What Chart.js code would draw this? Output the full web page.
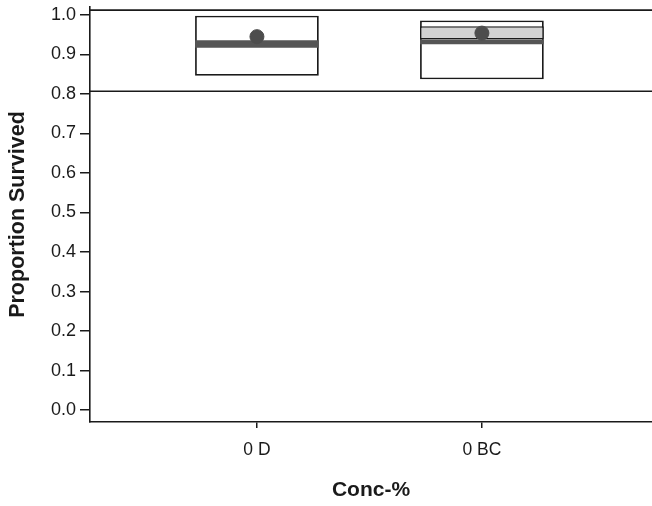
<!DOCTYPE html>
<html>
<head>
<meta charset="utf-8">
<script src="https://cdn.jsdelivr.net/npm/chart.js@4"></script>
<style>
  html, body { margin: 0; padding: 0; background: #fff; overflow: hidden; }
  #myChart { display: block; }
</style>
</head>
<body>
<canvas id="myChart" width="652" height="506"></canvas>
<script>
// values
const categories = ['0 D', '0 BC'];
const catPos = [0, 1];
const boxLow = [0.846, 0.837];
const boxHigh = [0.998, 0.986];
const bandLow = [null, 0.938];
const bandHigh = [null, 0.971];
const medianLow = [0.917, 0.926];
const medianHigh = [0.936, 0.938];
const means = [0.945, 0.954];
const refLines = [0.807, 1.012];
const yTicks = [0, 0.1, 0.2, 0.3, 0.4, 0.5, 0.6, 0.7, 0.8, 0.9, 1.0];

const xMin = -0.742, xMax = 1.756;
const fontFam = '"Liberation Sans", Arial, sans-serif';

function floating(lo, hi) {
    const out = [];
    catPos.forEach((x, i) => {
        if (lo[i] !== null && hi[i] !== null) out.push({x: x, y: [lo[i], hi[i]]});
    });
    return out;
}

const lineSets = refLines.map(v => ({
    type: 'line',
    data: [{x: xMin, y: v}, {x: xMax, y: v}],
    borderColor: '#1a1a1a',
    borderWidth: 1.6,
    pointRadius: 0,
    order: 6
}));

const barCommon = {
    type: 'bar',
    grouped: false,
    categoryPercentage: 1,
    barPercentage: 0.55,
    borderSkipped: false
};

const ctx = document.getElementById('myChart').getContext('2d');
const config = {
    type: 'bar',
    data: {
        datasets: [
            ...lineSets,
            Object.assign({}, barCommon, {
                data: floating(boxLow, boxHigh),
                backgroundColor: '#ffffff',
                borderColor: '#1a1a1a',
                borderWidth: 1.8,
                order: 5
            }),
            Object.assign({}, barCommon, {
                data: floating(bandLow, bandHigh),
                backgroundColor: '#d2d2d2',
                borderColor: '#1a1a1a',
                borderWidth: 1.4,
                order: 4
            }),
            Object.assign({}, barCommon, {
                data: floating(medianLow, medianHigh),
                backgroundColor: '#555555',
                borderWidth: 0,
                order: 3
            }),
            {
                type: 'scatter',
                data: catPos.map((x, i) => ({x: x, y: means[i]})),
                backgroundColor: '#4d4d4d',
                borderColor: '#4d4d4d',
                pointRadius: 7,
                order: 1
            }
        ]
    },
    options: {
        responsive: false,
        animation: false,
        // no auto padding for the mean dots, the plot runs to the right edge
        layout: { autoPadding: false, padding: { top: 7, right: 0, left: 0, bottom: 0 } },
        plugins: {
            legend: { display: false },
            tooltip: { enabled: false }
        },
        scales: {
            x: {
                type: 'linear',
                offset: false,
                min: xMin,
                max: xMax,
                afterBuildTicks: axis => { axis.ticks = catPos.map(v => ({value: v})); },
                afterFit: axis => {
                    axis.height = 84;
                    axis.paddingLeft = 0;
                    axis.paddingRight = 0;
                },
                ticks: {
                    callback: (v) => categories[catPos.indexOf(v)],
                    color: '#1a1a1a',
                    font: { family: fontFam, size: 17.5 },
                    padding: 12,
                    maxRotation: 0
                },
                grid: { offset: false, drawOnChartArea: false, drawTicks: true, tickLength: 6, color: '#1a1a1a', lineWidth: 1.5 },
                border: { display: true, color: '#1a1a1a', width: 1.6 },
                title: {
                    display: true,
                    text: 'Conc-%',
                    color: '#1a1a1a',
                    font: { family: fontFam, size: 21, weight: 'bold' },
                    padding: 3
                }
            },
            y: {
                min: -0.03,
                max: 1.02,
                afterBuildTicks: axis => { axis.ticks = yTicks.map(v => ({value: v})); },
                afterFit: axis => {
                    axis.width = 90;
                    axis.paddingTop = 0;
                    axis.paddingBottom = 0;
                },
                ticks: {
                    callback: (v) => v.toFixed(1),
                    color: '#1a1a1a',
                    font: { family: fontFam, size: 18 },
                    padding: 4
                },
                grid: { drawOnChartArea: false, drawTicks: true, tickLength: 10, color: '#1a1a1a', lineWidth: 1.5 },
                border: { display: true, color: '#1a1a1a', width: 1.6 },
                title: {
                    display: true,
                    text: 'Proportion Survived',
                    color: '#1a1a1a',
                    font: { family: fontFam, size: 21.5, weight: 'bold' },
                    padding: 5
                }
            }
        }
    }
};
const myChart = new Chart(ctx, config);
</script>
</body>
</html>
